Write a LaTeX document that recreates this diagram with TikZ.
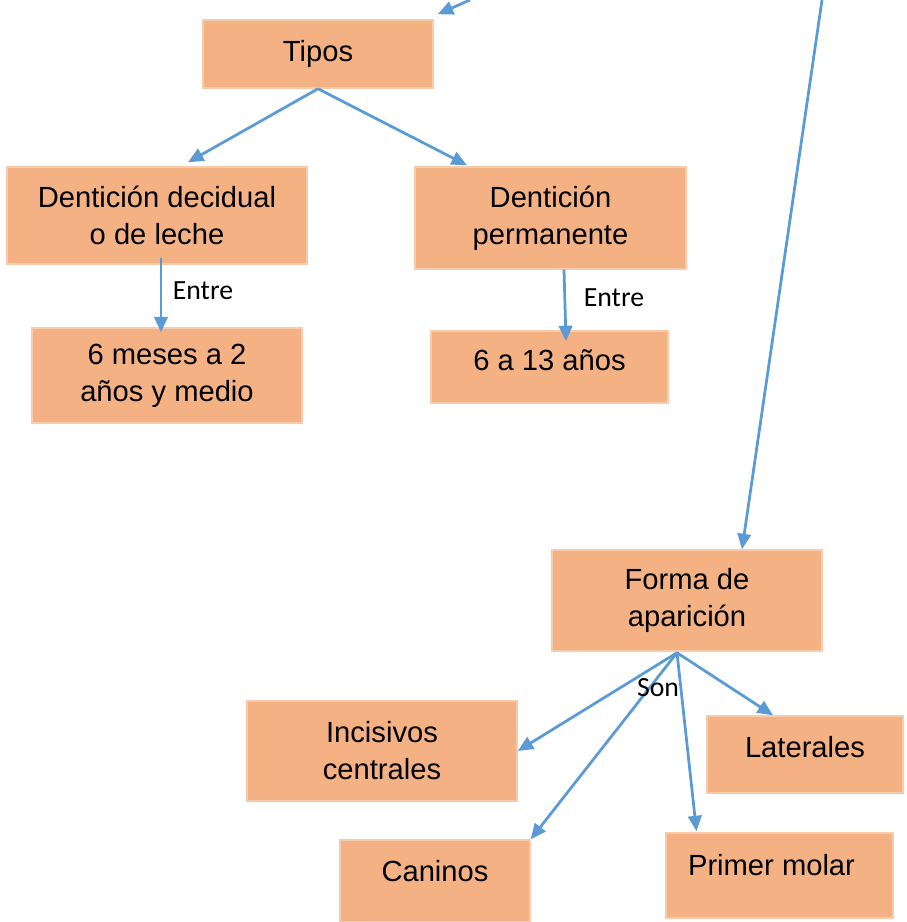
\documentclass[tikz,border=0pt]{standalone}
\usepackage{fontspec}
\setmainfont{Liberation Sans}
\newfontfamily\labelfont{Carlito}
\usetikzlibrary{arrows.meta,calc}
\definecolor{colorcaja}{HTML}{F4B183}
\definecolor{colorborde}{HTML}{F8CBAD}
\definecolor{colorflecha}{HTML}{5B9BD5}

\begin{document}
\begin{tikzpicture}[x=0.02cm,y=-0.02cm,
    caja/.style={fill=colorcaja, draw=colorborde, line width=0.03cm, inner sep=0pt,
        align=center, font=\fontsize{16.6pt}{21pt}\selectfont},
    flecha/.style={draw=colorflecha, line width=0.055cm,
        -{Triangle[length=0.31cm,width=0.27cm]}},
    etiqueta/.style={font=\labelfont\fontsize{15.8pt}{18pt}\selectfont}]

    % Page size
    \useasboundingbox (0,0) rectangle (906,922);

    % Upper part: the two kinds of teeth
    \node[caja, minimum width=4.6cm, minimum height=1.36cm] (tipos) at (318,54) {Tipos};
    \node[caja, minimum width=6cm, minimum height=1.94cm] (decidual) at (157,215.5) {Dentición decidual\\o de leche};
    \node[caja, minimum width=5.42cm, minimum height=2.04cm] (permanente) at (550.5,218) {Dentición\\permanente};
    \node[caja, minimum width=5.4cm, minimum height=1.9cm] (meses) at (167,375.5) {6 meses a 2\\años y medio};
    \node[caja, minimum width=4.74cm, minimum height=1.44cm, text depth=0.28cm] (anios) at (549.5,367) {6 a 13 años};

    % Lower part: how they come out
    \node[caja, minimum width=5.4cm, minimum height=2.02cm] (forma) at (687,600.5) {Forma de\\aparición};
    \node[caja, minimum width=5.4cm, minimum height=2cm] (incisivos) at (382,751) {Incisivos\\centrales};
    \node[caja, minimum width=3.92cm, minimum height=1.54cm, text depth=0.32cm] (laterales) at (805,754.5) {Laterales};
    \node[caja, minimum width=3.8cm, minimum height=1.64cm, text depth=0.4cm] (caninos) at (435,881) {Caninos};
    \node[caja, minimum width=4.54cm, minimum height=1.7cm, text depth=0.44cm] (molar) at (779.5,875.5) {Primer molar\hspace*{0.32cm}};

    % Loose ends coming from outside the page
    \coordinate (arriba1) at (470,0);
    \coordinate (arriba2) at (822,0);
    \coordinate (son) at ($(forma.south)+(-10,1)$);

    % Arrows
    \draw[flecha] (arriba1) -- ($(tipos.north east)+(4,-5)$);
    \draw[flecha] (arriba2) -- ($(forma.north)+(55,0)$);
    \draw[flecha] (tipos.south) -- ($(decidual.north)+(31,-4)$);
    \draw[flecha] (tipos.south) -- ($(permanente.north)+(-83.5,-1)$);
    \draw[flecha] ($(decidual.south)+(4,-7)$) -- ($(meses.north)+(-6,5)$);
    \draw[flecha] ($(permanente.south)+(13.5,0)$) -- ($(anios.north)+(16.5,11)$);
    \draw[flecha] (son) -- (incisivos.east);
    \draw[flecha] (son) -- ($(laterales.north)+(-32,0)$);
    \draw[flecha] (son) -- (caninos.north east);
    \draw[flecha] (son) -- ($(molar.north)+(-83,-1)$);

    % Labels on the arrows
    \node[etiqueta] (entre1) at (203,291) {Entre};
    \node[etiqueta] (entre2) at (614,298) {Entre};
    \node[etiqueta] (sonlabel) at (658,688) {Son};
\end{tikzpicture}
\end{document}
